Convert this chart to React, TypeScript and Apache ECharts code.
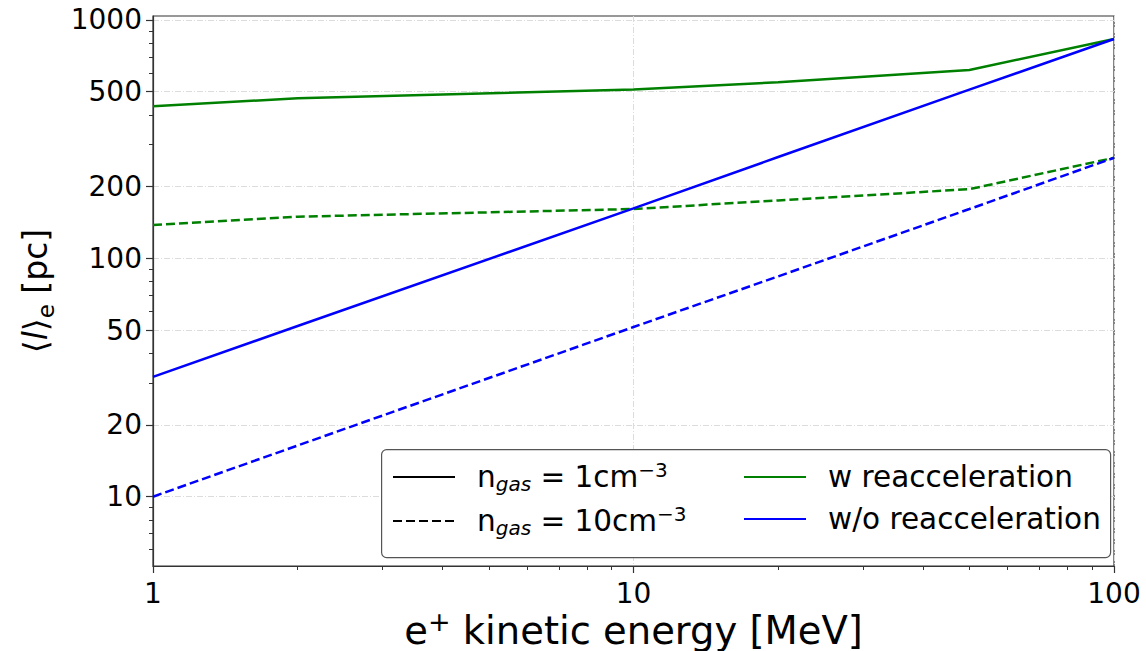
import React, { useEffect, useRef } from 'react';
import * as echarts from 'echarts';

// ---- data ----
const energy = [1, 2, 10, 20, 50, 100];
const reaccN1 = [435, 469, 511, 548, 617, 832];
const noReaccN1 = [31.8, 52, 162, 266, 510, 832];
const reaccN10 = [138, 149.5, 161, 175, 195, 264];
const noReaccN10 = [10, 16.4, 51.5, 84, 161, 264];

const xMajorTicks = [1, 10, 100];
const xMinorTicks = [2, 3, 4, 5, 6, 7, 8, 9, 20, 30, 40, 50, 60, 70, 80, 90];
const yMajorTicks = [10, 20, 50, 100, 200, 500, 1000];
const yMinorTicks = [6, 7, 8, 9, 30, 40, 60, 70, 80, 90, 300, 400, 600, 700, 800, 900];

const legendLabels: Record<string, string> = {
  n1: 'n{sub|gas}{eq| = }1cm{sup|−3}',
  n10: 'n{sub|gas}{eq| = }10cm{sup|−3}',
  'w reacceleration': 'w reacceleration',
  'w/o reacceleration': 'w/o reacceleration',
};

const FONT = 'DejaVu Sans';
const GREEN = '#008000';
const BLUE = '#0000ff';
const NONE = 'rgba(0,0,0,0)';

const pairs = (ys: number[]) => energy.map((x, i) => [x, ys[i]]);

export default function App() {
  const ref = useRef<HTMLDivElement>(null);
  useEffect(() => {
    if (!ref.current) return;
    const chart = echarts.init(ref.current, undefined, { renderer: 'svg' });
    const LF = 29.5;
    const legendText = {
      fontSize: LF,
      fontFamily: FONT,
      color: '#000',
      lineHeight: 34,
      padding: [0, 0, 0, 17],
      rich: {
        sub: { fontSize: 20, fontStyle: 'italic', fontFamily: FONT, color: '#000', lineHeight: 20, verticalAlign: 'bottom' },
        sup: { fontSize: 20, fontFamily: FONT, color: '#000', lineHeight: 20, verticalAlign: 'top' },
        eq: { fontSize: LF, fontFamily: FONT, color: '#000', lineHeight: 34 },
      },
    };
    const mkLegend = (name: string, left: number, top: number) => ({
      data: [name],
      left,
      top,
      orient: 'horizontal',
      itemWidth: 62,
      itemHeight: 14,
      padding: 0,
      selectedMode: false,
      formatter: (n: string) => legendLabels[n],
      textStyle: legendText,
      z: 5,
    });
    const gridLine = { show: true, lineStyle: { color: '#dcdcdc', width: 1, type: [6, 2, 1, 2] } };
    const option: any = {
      animation: false,
      backgroundColor: '#fff',
      grid: {
        left: 153, right: 32, top: 16, bottom: 85,
        show: true, borderColor: '#333', borderWidth: 1.2, backgroundColor: 'transparent',
        outerBoundsMode: 'none',
      },
      xAxis: [
        {
          type: 'log', logBase: 10, min: 0.99999, max: 100.001, position: 'bottom',
          name: 'e{sup|+} kinetic energy [MeV]', nameLocation: 'middle', nameGap: 42,
          nameMoveOverlap: false,
          nameTextStyle: {
            fontSize: 38.5, fontFamily: FONT, color: '#000', lineHeight: 44,
            rich: { sup: { fontSize: 27, fontFamily: FONT, color: '#000', lineHeight: 27, verticalAlign: 'top' } },
          },
          axisLine: { show: true, lineStyle: { color: '#333', width: 1.2 } },
          axisTick: { show: true, inside: false, length: 7, customValues: xMajorTicks, lineStyle: { color: '#333', width: 1.2 } },
          axisLabel: { show: true, customValues: xMajorTicks, margin: 13, fontSize: 28, fontFamily: FONT, color: '#000', formatter: (v: number) => String(Math.round(v)) },
          splitLine: gridLine,
          minorTick: { show: false },
          minorSplitLine: { show: false },
        },
        {
          type: 'log', logBase: 10, min: 0.99999, max: 100.001, position: 'bottom', gridIndex: 0,
          axisLine: { show: false },
          axisTick: { show: true, inside: false, length: 4, customValues: xMinorTicks, lineStyle: { color: '#333', width: 1 } },
          axisLabel: { show: false },
          splitLine: { show: false },
        },
      ],
      yAxis: [
        {
          type: 'log', logBase: 10, min: 5.12, max: 1039, position: 'left',
          name: '⟨{it|l}⟩{sub|e} [pc]', nameLocation: 'middle', nameGap: 96,
          nameMoveOverlap: false,
          nameTextStyle: {
            fontSize: 33, fontFamily: FONT, color: '#000', lineHeight: 44,
            rich: {
              it: { fontSize: 33, fontStyle: 'italic', fontFamily: FONT, color: '#000', lineHeight: 44 },
              sub: { fontSize: 23, fontFamily: FONT, color: '#000', lineHeight: 28, verticalAlign: 'bottom' },
            },
          },
          axisLine: { show: true, lineStyle: { color: '#333', width: 1.2 } },
          axisTick: { show: true, inside: false, length: 7, customValues: yMajorTicks, lineStyle: { color: '#333', width: 1.2 } },
          axisLabel: { show: true, customValues: yMajorTicks, margin: 11, fontSize: 28, fontFamily: FONT, color: '#000', formatter: (v: number) => String(Math.round(v)) },
          splitLine: gridLine,
          minorTick: { show: false },
          minorSplitLine: { show: false },
        },
        {
          type: 'log', logBase: 10, min: 5.12, max: 1039, position: 'left', gridIndex: 0,
          axisLine: { show: false },
          axisTick: { show: true, inside: false, length: 4, customValues: yMinorTicks, lineStyle: { color: '#333', width: 1 } },
          axisLabel: { show: false },
          splitLine: { show: false },
        },
      ],
      legend: [
        mkLegend('n1', 392, 460),
        mkLegend('n10', 392, 504),
        mkLegend('w reacceleration', 743, 460),
        mkLegend('w/o reacceleration', 743, 502),
      ],
      graphic: [
        {
          type: 'rect', left: 381, top: 449, z: 4,
          shape: { width: 729, height: 108, r: 5 },
          style: { fill: '#fff', stroke: '#555', lineWidth: 1.2 },
        },
      ],
      series: [
        { name: 'n1', type: 'line', data: [], symbol: 'none', lineStyle: { color: '#000', width: 2.5, type: 'solid' }, itemStyle: { color: NONE, borderColor: NONE } },
        { name: 'n10', type: 'line', data: [], symbol: 'none', lineStyle: { color: '#000', width: 2.5, type: [9, 4] }, itemStyle: { color: NONE, borderColor: NONE } },
        { name: 'w reacceleration', type: 'line', data: [], symbol: 'none', lineStyle: { color: GREEN, width: 2.5 }, itemStyle: { color: NONE, borderColor: NONE } },
        { name: 'w/o reacceleration', type: 'line', data: [], symbol: 'none', lineStyle: { color: BLUE, width: 2.5 }, itemStyle: { color: NONE, borderColor: NONE } },
        { name: 'w reacc, n=1', type: 'line', data: pairs(reaccN1), symbol: 'none', lineStyle: { color: GREEN, width: 2.5 }, itemStyle: { color: GREEN }, z: 3 },
        { name: 'w reacc, n=10', type: 'line', data: pairs(reaccN10), symbol: 'none', lineStyle: { color: GREEN, width: 2.5, type: [9, 4] }, itemStyle: { color: GREEN }, z: 3 },
        { name: 'w/o reacc, n=1', type: 'line', data: pairs(noReaccN1), symbol: 'none', lineStyle: { color: BLUE, width: 2.5 }, itemStyle: { color: BLUE }, z: 3 },
        { name: 'w/o reacc, n=10', type: 'line', data: pairs(noReaccN10), symbol: 'none', lineStyle: { color: BLUE, width: 2.5, type: [9, 4] }, itemStyle: { color: BLUE }, z: 3 },
      ],
    };
    chart.setOption(option);
    return () => chart.dispose();
  }, []);
  return <div ref={ref} style={{ position: 'fixed', left: 0, top: 0, width: 1146, height: 651 }} />;
}
